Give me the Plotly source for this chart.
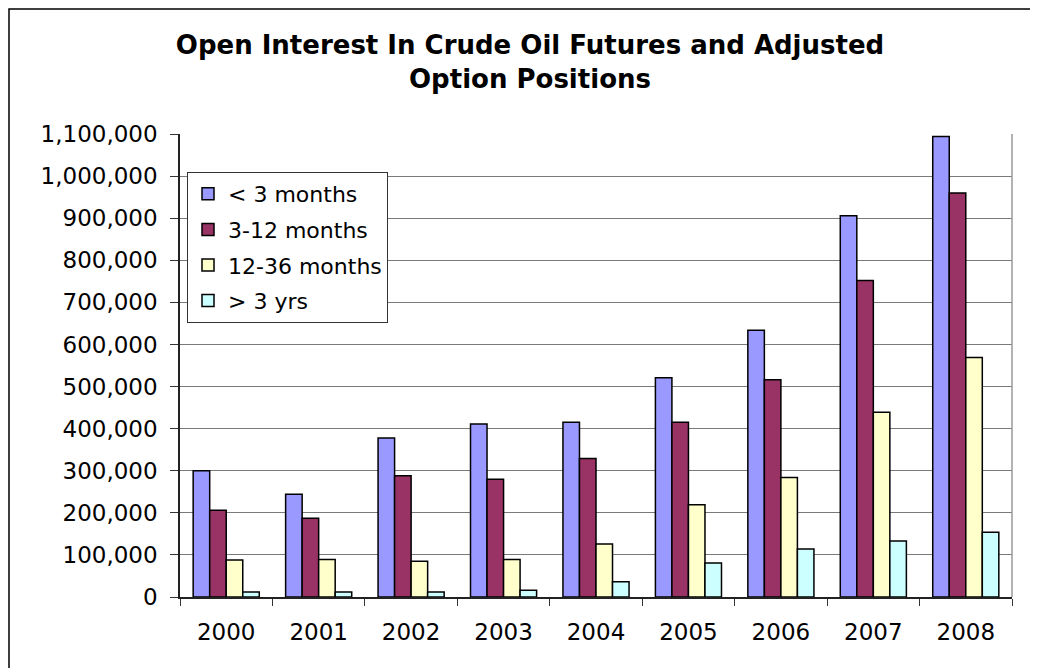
import plotly.graph_objects as go

# data
years = ["2000", "2001", "2002", "2003", "2004", "2005", "2006", "2007", "2008"]
under_3m = [300000, 244000, 378000, 411000, 415000, 521000, 634000, 906000, 1094000]
m3_12 = [206000, 187000, 288000, 280000, 329000, 415000, 516000, 752000, 960000]
m12_36 = [88000, 89000, 85000, 89000, 126000, 219000, 284000, 439000, 569000]
over_3y = [12000, 12000, 12000, 16000, 36000, 81000, 114000, 133000, 154000]

series_names = ["< 3 months", "3-12 months", "12-36 months", "> 3 yrs"]
series_colors = ["#9999FF", "#993366", "#FFFFCC", "#CCFFFF"]
series_values = [under_3m, m3_12, m12_36, over_3y]

FONT = "DejaVu Sans"
# the page body has an 8px margin, so figure coords are screen coords minus 8
OFF = 8
L, R, T, B = 180 - OFF, 1038 - (1012 - OFF), 134 - OFF, 668 - (597 - OFF)
PW = 1038 - L - R
PH = 668 - T - B

fig = go.Figure()
for name, color, vals in zip(series_names, series_colors, series_values):
    fig.add_trace(go.Bar(
        x=years, y=vals, name=name, legendgroup=name,
        marker=dict(color=color, line=dict(color="black", width=1.5)),
    ))

fig.update_layout(
    width=1038, height=668,
    margin=dict(l=L, r=R, t=T, b=B, autoexpand=False),
    paper_bgcolor="white", plot_bgcolor="white",
    font=dict(family=FONT, size=22, color="black"),
    barmode="group", bargap=0.285, bargroupgap=0,
    title=dict(
        text="<b>Open Interest In Crude Oil Futures and Adjusted<br>Option Positions</b>",
        x=(530 - OFF) / 1038, xanchor="center", xref="container",
        y=1 - (54 - OFF) / 668, yanchor="top", yref="container",
        font=dict(family=FONT, size=26, color="black"),
    ),
    legend=dict(
        x=(187 - 180) / PW, y=(597 - 172) / PH, xanchor="left", yanchor="top",
        bgcolor="white", bordercolor="#333333", borderwidth=1,
        font=dict(family=FONT, size=22),
        tracegroupgap=4, traceorder="grouped",
    ),
    showlegend=True,
)

fig.update_xaxes(
    type="category", tickson="boundaries", ticks="outside", ticklen=7,
    tickcolor="#333333", showline=True, linecolor="#222222", linewidth=1.5,
    showgrid=False, tickfont=dict(size=23), ticklabelstandoff=14,
)
fig.update_yaxes(
    range=[0, 1100000], dtick=100000, tickformat=",",
    ticks="outside", ticklen=8, tickcolor="#333333",
    showline=True, linecolor="#222222", linewidth=1.5,
    showgrid=True, gridcolor="#7a7a7a", gridwidth=1.3,
    zeroline=False, tickfont=dict(size=23), ticklabelstandoff=8,
)

# right plot-area border and outer chart frame
fig.add_shape(type="line", xref="paper", yref="paper", x0=1, x1=1, y0=0, y1=1,
              line=dict(color="#999999", width=1.5))
fig.add_shape(type="rect", xref="paper", yref="paper",
              x0=(1 - L) / PW, x1=(1060 - L) / PW,
              y0=-0.3, y1=(668 - B - 1) / PH,
              line=dict(color="black", width=1.5))

fig.write_html("out.html")
